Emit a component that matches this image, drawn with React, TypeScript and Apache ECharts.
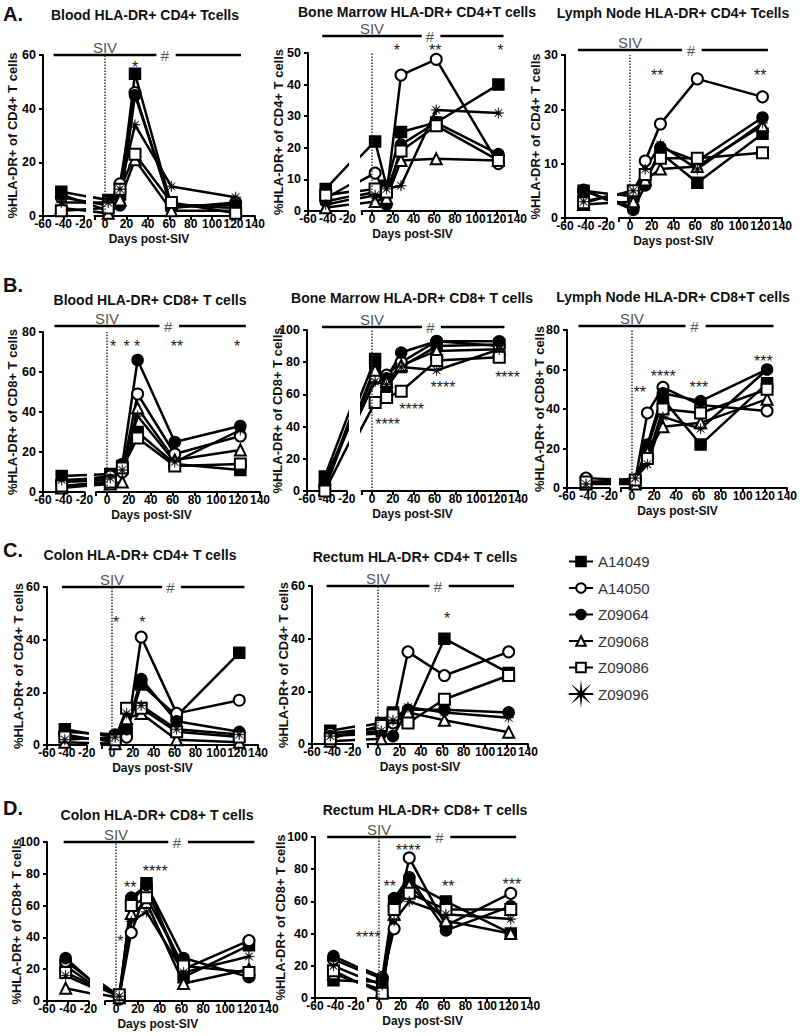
import React, { useEffect, useRef } from 'react';
import * as echarts from 'echarts';

const FONT = 'Arial, "Liberation Sans", Helvetica, sans-serif';

const DAYS = [-42, 3, 14, 28, 62, 122];
const ANIMALS = ['A14049', 'A14050', 'Z09064', 'Z09068', 'Z09086', 'Z09096'];
const X_LEFT_TICKS = [-60, -40, -20];
const X_RIGHT_TICKS = [0, 20, 40, 60, 80, 100, 120, 140];

// rows follow ANIMALS, columns follow DAYS
const bloodCD4 = [
  [9, 6, 8, 53, 4, 3],
  [7, 4, 12, 46, 3, 5],
  [8, 2, 4, 45, 4, 4],
  [3, 1, 6, 21, 2, 2],
  [2, 3, 10, 23, 5, 1],
  [5, 5, 10, 34, 11, 7],
];
const boneMarrowCD4 = [
  [7, 22, 8, 25, 28, 40],
  [4, 12, 5, 43, 48, 15],
  [3, 6, 2, 21, 28, 18],
  [1, 3, 4, 16, 16.5, 16],
  [5, 7, 6, 19, 27, 16],
  [2, 5, 7, 8, 32, 31],
];
const lymphNodeCD4 = [
  [5, 4, 7, 12, 6.5, 15.5],
  [5, 2, 10.5, 17.3, 25.6, 22.3],
  [5.2, 1.5, 6, 13, 10.5, 18.5],
  [2.5, 3, 7, 9, 9.5, 17],
  [2.8, 5, 8, 11, 11, 12],
  [3, 5, 9, 13.5, 9, 17.5],
];
const bloodCD8 = [
  [8, 9, 13, 30, 14, 11],
  [5, 8, 10, 49, 19, 28],
  [5, 6, 14, 66, 25, 33],
  [2, 4, 5, 42, 16, 21],
  [3, 5, 12, 27, 13, 14],
  [6, 7, 11, 38, 15, 31],
];
const boneMarrowCD8 = [
  [9, 82, 64, 77, 90, 91],
  [4, 70, 72, 80, 93, 90],
  [3, 77, 70, 86, 93, 93],
  [1, 75, 68, 78, 87, 88],
  [0, 55, 58, 62, 81, 83],
  [7, 68, 66, 77, 75, 88],
];
const lymphNodeCD8 = [
  [2, 3, 20, 45, 22, 53],
  [5, 4, 38, 51, 42, 39],
  [3, 3, 22, 48, 44, 60],
  [2, 2, 18, 31, 33, 45],
  [3, 4, 15, 40, 38, 50],
  [2, 5, 12, 36, 30, 60],
];
const colonCD4 = [
  [6, 3, 5, 23, 11, 35],
  [4, 1, 3, 41, 12, 17],
  [5, 4, 6, 25, 9, 5],
  [1, 0.5, 10, 12, 2, 1],
  [3, 2, 14, 14, 5, 3],
  [2, 3, 12, 15, 6, 4],
];
const rectumCD4 = [
  [5, 8, 12, 9, 40, 27],
  [4, 6, 8, 35, 26, 35],
  [3, 4, 3, 13, 13, 12],
  [1, 2, 10, 12, 9, 4.5],
  [2, 7, 11, 8, 17, 26],
  [3, 5, 9, 14, 12, 10],
];
const colonCD8 = [
  [22, 2, 62, 74, 15, 35],
  [25, 3, 43, 70, 20, 38],
  [27, 1, 65, 73, 27, 15],
  [8, 2, 55, 62, 11, 20],
  [18, 4, 60, 65, 22, 18],
  [16, 3, 50, 56, 18, 28],
];
const rectumCD8 = [
  [11, 10, 60, 72, 60, 40],
  [24, 12, 43, 87, 45, 65],
  [26, 13, 62, 75, 42, 57],
  [15, 5, 52, 70, 48, 40],
  [17, 3, 55, 65, 55, 55],
  [20, 8, 48, 60, 52, 49],
];

// significance marks: [day, value, text]
const starsBloodCD4: [number, number, string][] = [[28, 57, '*']];
const starsBoneMarrowCD4: [number, number, string][] = [[24, 52, '*'], [61, 52, '**'], [124, 52, '*']];
const starsLymphNodeCD4: [number, number, string][] = [[25, 27, '**'], [120, 27, '**']];
const starsBloodCD8: [number, number, string][] = [[5.5, 75, '*'], [18, 75, '*'], [27.5, 75, '*'], [64, 75, '**'], [119, 75, '*']];
const starsBoneMarrowCD8: [number, number, string][] = [[15, 44, '****'], [38, 53, '****'], [68, 67, '****'], [130, 73, '****']];
const starsLymphNodeCD8: [number, number, string][] = [[7, 50.6, '**'], [28, 58.7, '****'], [60, 53, '***'], [118, 66, '***']];
const starsColonCD4: [number, number, string][] = [[4, 48, '*'], [29, 48, '*']];
const starsRectumCD4: [number, number, string][] = [[64.5, 49, '*']];
const starsColonCD8: [number, number, string][] = [[4, 40, '*'], [13, 74, '**'], [36, 84, '****']];
const starsRectumCD8: [number, number, string][] = [[-10, 40, '****'], [10, 72, '**'], [27, 94, '****'], [64, 72, '**'], [123, 73, '***']];

const CD4_NAME = '%HLA-DR+ of CD4+ T cells';
const CD8_NAME = '%HLA-DR+ of CD8+ T cells';

const PANELS = [
  { data: bloodCD4, stars: starsBloodCD4, title: 'Blood HLA-DR+ CD4+ Tcells', tx: 145, ty: 15, letter: 'A.', ly: 14, yName: CD4_NAME, nameX: 12, ax: 43, top: 55, bottom: 216, zero: 105, s: 1.071, ymax: 60, yint: 20, siv: 0 },
  { data: boneMarrowCD4, stars: starsBoneMarrowCD4, title: 'Bone Marrow HLA-DR+ CD4+T cells', tx: 417, ty: 12, letter: '', ly: 0, yName: CD4_NAME, nameX: 278, ax: 308, top: 53, bottom: 211, zero: 372, s: 1.036, ymax: 50, yint: 10, siv: 17 },
  { data: lymphNodeCD4, stars: starsLymphNodeCD4, title: 'Lymph Node HLA-DR+ CD4+ Tcells', tx: 673, ty: 13, letter: '', ly: 0, yName: CD4_NAME, nameX: 535, ax: 565, top: 55, bottom: 218, zero: 630, s: 1.086, ymax: 30, yint: 10, siv: 5 },
  { data: bloodCD8, stars: starsBloodCD8, title: 'Blood HLA-DR+ CD8+ T cells', tx: 150, ty: 300, letter: 'B.', ly: 285, yName: CD8_NAME, nameX: 12, ax: 43, top: 332, bottom: 492, zero: 107, s: 1.093, ymax: 80, yint: 20, siv: 6 },
  { data: boneMarrowCD8, stars: starsBoneMarrowCD8, title: 'Bone Marrow HLA-DR+ CD8+ T cells', tx: 412, ty: 298, letter: '', ly: 0, yName: CD8_NAME, nameX: 277, ax: 307, top: 330, bottom: 491, zero: 372, s: 1.043, ymax: 100, yint: 20, siv: 3 },
  { data: lymphNodeCD8, stars: starsLymphNodeCD8, title: 'Lymph Node HLA-DR+ CD8+T cells', tx: 673, ty: 297, letter: '', ly: 0, yName: CD8_NAME, nameX: 539, ax: 567, top: 330, bottom: 488, zero: 632, s: 1.114, ymax: 80, yint: 20, siv: 4 },
  { data: colonCD4, stars: starsColonCD4, title: 'Colon HLA-DR+ CD4+ T cells', tx: 140, ty: 555, letter: 'C.', ly: 550, yName: CD4_NAME, nameX: 18, ax: 47, top: 587, bottom: 745, zero: 112, s: 1.043, ymax: 60, yint: 20, siv: 0 },
  { data: rectumCD4, stars: starsRectumCD4, title: 'Rectum HLA-DR+ CD4+ T cells', tx: 415, ty: 557, letter: '', ly: 0, yName: CD4_NAME, nameX: 283, ax: 312, top: 586, bottom: 744, zero: 378, s: 1.071, ymax: 60, yint: 20, siv: 0 },
  { data: colonCD8, stars: starsColonCD8, title: 'Colon HLA-DR+ CD8+ T cells', tx: 157, ty: 815, letter: 'D.', ly: 808, yName: CD8_NAME, nameX: 16, ax: 47, top: 842, bottom: 1001, zero: 116, s: 1.09, ymax: 100, yint: 20, siv: 0 },
  { data: rectumCD8, stars: starsRectumCD8, title: 'Rectum HLA-DR+ CD8+ T cells', tx: 425, ty: 810, letter: '', ly: 0, yName: CD8_NAME, nameX: 280, ax: 315, top: 837, bottom: 998, zero: 379, s: 1.08, ymax: 100, yint: 20, siv: 0 },
];

function asteriskPath(): string {
  const pts: string[] = [];
  for (let i = 0; i < 16; i++) {
    const a = (i * Math.PI) / 8 - Math.PI / 2;
    const r = i % 2 === 0 ? 10 : 2.2;
    pts.push(`${(Math.cos(a) * r).toFixed(2)} ${(Math.sin(a) * r).toFixed(2)}`);
  }
  return 'path://M' + pts.join(' L') + ' Z';
}

const MARKERS = [
  { symbol: 'rect', fill: '#000', bw: 1.5 },
  { symbol: 'circle', fill: '#fff', bw: 2 },
  { symbol: 'circle', fill: '#000', bw: 1.5 },
  { symbol: 'triangle', fill: '#fff', bw: 2 },
  { symbol: 'rect', fill: '#fff', bw: 2 },
  { symbol: asteriskPath(), fill: '#000', bw: 0.5 },
];

function buildOption() {
  const grid: any[] = [];
  const xAxis: any[] = [];
  const yAxis: any[] = [];
  const series: any[] = [];
  const graphic: any[] = [];

  const axisLine = { show: true, lineStyle: { color: '#000', width: 2 } };
  const axisLabel = { color: '#000', fontSize: 12, fontWeight: 'bold', fontFamily: FONT };

  PANELS.forEach((p) => {
    const gl = grid.length;
    const h = p.bottom - p.top;
    const lw = 40 * p.s * 0.95;
    grid.push({ left: p.ax, top: p.top, width: lw, height: h });
    grid.push({ left: p.zero - 10 * p.s, top: p.top, width: 150 * p.s, height: h });

    xAxis.push({
      gridIndex: gl, type: 'value', min: -60, max: -20, interval: 20,
      axisLine, splitLine: { show: false },
      axisTick: { show: true, length: 4, lineStyle: { color: '#000', width: 2 }, customValues: X_LEFT_TICKS },
      axisLabel: { ...axisLabel, margin: 2, customValues: X_LEFT_TICKS },
    });
    xAxis.push({
      gridIndex: gl + 1, type: 'value', min: -10, max: 140,
      axisLine, splitLine: { show: false },
      axisTick: { show: true, length: 4, lineStyle: { color: '#000', width: 2 }, customValues: [-10, ...X_RIGHT_TICKS] },
      axisLabel: { ...axisLabel, margin: 2, customValues: X_RIGHT_TICKS },
    });
    yAxis.push({
      gridIndex: gl, type: 'value', min: 0, max: p.ymax, interval: p.yint,
      axisLine, splitLine: { show: false },
      axisTick: { show: true, length: 4, lineStyle: { color: '#000', width: 2 } },
      axisLabel: { ...axisLabel, fontSize: 12.5, margin: 7 },
    });
    yAxis.push({ gridIndex: gl + 1, type: 'value', min: 0, max: p.ymax, show: false, splitLine: { show: false } });

    ANIMALS.forEach((name, i) => {
      const m = MARKERS[i];
      for (let k = 0; k < 2; k++) {
        const s: any = {
          type: 'line', name, xAxisIndex: gl + k, yAxisIndex: gl + k,
          data: DAYS.map((d, j) => [d, p.data[i][j]]),
          symbol: m.symbol, symbolSize: 11, showAllSymbol: true, clip: true, silent: true,
          lineStyle: { color: '#000', width: 2.5 },
          itemStyle: { color: m.fill, borderColor: '#000', borderWidth: m.bw },
          z: 3,
        };
        if (k === 1 && i === 0) {
          s.markLine = {
            symbol: ['none', 'none'], silent: true, label: { show: false },
            lineStyle: { type: 'dotted', color: '#333', width: 1.5 },
            data: [{ xAxis: 0 }],
          };
        }
        series.push(s);
      }
    });

    const px = (d: number) => p.zero + d * p.s;
    const py = (v: number) => p.bottom - (v * h) / p.ymax;

    // titles
    graphic.push({ type: 'text', x: p.tx, y: p.ty, style: { text: p.title, fill: '#111', font: `bold 14px ${FONT}`, align: 'center', verticalAlign: 'middle' } });
    if (p.letter) {
      graphic.push({ type: 'text', x: 3, y: p.ly, style: { text: p.letter, fill: '#111', font: `bold 20px ${FONT}`, align: 'left', verticalAlign: 'middle' } });
    }
    graphic.push({ type: 'text', x: p.nameX, y: (p.top + p.bottom) / 2, rotation: Math.PI / 2, style: { text: p.yName, fill: '#111', font: `bold 13px ${FONT}`, align: 'center', verticalAlign: 'middle' } });
    graphic.push({ type: 'text', x: (p.ax + px(140)) / 2, y: p.bottom + 23, style: { text: 'Days post-SIV', fill: '#111', font: `bold 12px ${FONT}`, align: 'center', verticalAlign: 'middle' } });

    // SIV bar
    const yl = p.top - p.siv;
    graphic.push({ type: 'line', shape: { x1: px(-48), y1: yl, x2: px(48), y2: yl }, style: { stroke: '#000', lineWidth: 2.5 } });
    graphic.push({ type: 'line', shape: { x1: px(66), y1: yl, x2: px(127), y2: yl }, style: { stroke: '#000', lineWidth: 2.5 } });
    graphic.push({ type: 'text', x: px(56), y: yl, style: { text: '#', fill: '#555', font: `15px ${FONT}`, align: 'center', verticalAlign: 'middle' } });
    graphic.push({ type: 'text', x: px(0), y: yl - 8, style: { text: 'SIV', fill: '#555', font: `15px ${FONT}`, align: 'center', verticalAlign: 'middle' } });

    p.stars.forEach(([d, v, t]) => {
      graphic.push({ type: 'text', x: px(d), y: py(v) + 4, style: { text: t, fill: '#222', font: `16px ${FONT}`, align: 'center', verticalAlign: 'middle' } });
    });
  });

  return {
    animation: false,
    backgroundColor: '#fff',
    grid, xAxis, yAxis, series, graphic,
    legend: {
      data: ANIMALS, orient: 'vertical', left: 563, top: 549,
      itemWidth: 24, itemHeight: 12, itemGap: 11.5, selectedMode: false,
      textStyle: { fontSize: 15, color: '#333', fontFamily: FONT },
    },
  };
}

export default function App() {
  const ref = useRef<HTMLDivElement>(null);
  useEffect(() => {
    if (!ref.current) return;
    const chart = echarts.init(ref.current, undefined, { renderer: 'svg' });
    chart.setOption(buildOption() as any);
    return () => chart.dispose();
  }, []);
  return <div ref={ref} style={{ position: 'fixed', left: 0, top: 0, width: 800, height: 1036, background: '#fff' }} />;
}
